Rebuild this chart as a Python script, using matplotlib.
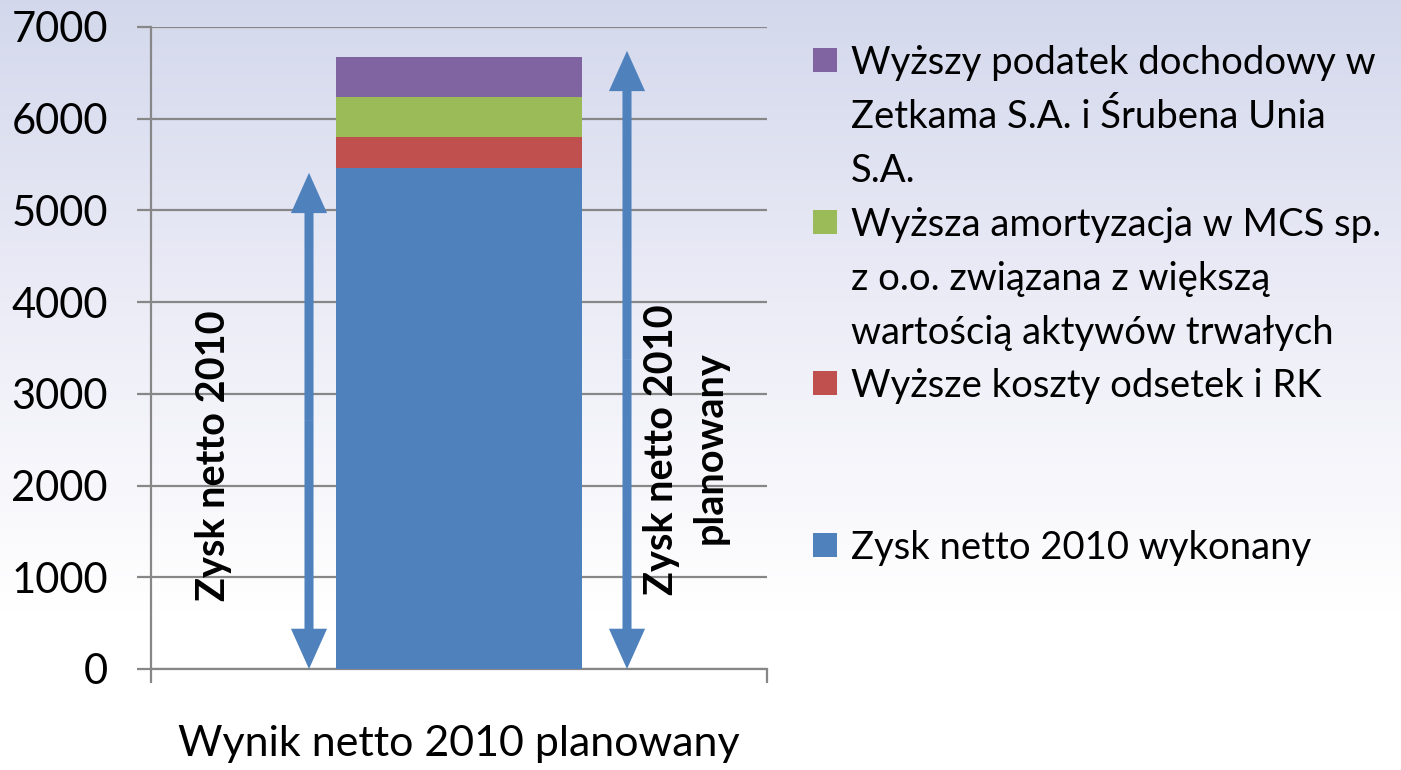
import numpy as np
import matplotlib
matplotlib.use("Agg")
import matplotlib.pyplot as plt
from matplotlib.patches import Rectangle, FancyArrowPatch

# ---------------- data ----------------
category = "Wynik netto 2010 planowany"
series_names = [
    "Zysk netto 2010 wykonany",
    "Wyższe koszty odsetek i RK",
    "Wyższa amortyzacja w MCS sp.\nz o.o. związana z większą\nwartością aktywów trwałych",
    "Wyższy podatek dochodowy w\nZetkama S.A. i Śrubena Unia\nS.A.",
]
series_values = [5466, 335, 436, 436]
series_colors = ["#4F81BD", "#C0504D", "#9BBB59", "#8064A2"]
y_ticks = [0, 1000, 2000, 3000, 4000, 5000, 6000, 7000]
arrow_left_label = "Zysk netto 2010"
arrow_right_label = "Zysk netto 2010\nplanowany"
arrow_left_top = 5410
arrow_right_top = 6740

# ---------------- figure ----------------
W, H = 1401, 770
fig = plt.figure(figsize=(W / 100, H / 100), dpi=100)
plt.rcParams['font.family'] = ['Lato', 'DejaVu Sans']

# background gradient
bg = fig.add_axes([0, 0, 1, 1], zorder=-10)
bg.axis("off")
top = np.array([0.827, 0.847, 0.925])
mid = np.array([0.925, 0.925, 0.968])
white = np.array([1.0, 1.0, 1.0])
cols = np.zeros((400, 1, 3))
for i, t in enumerate(np.linspace(0, H, 400)):
    if t < 300:
        f = t / 300
        c = top * (1 - f) + mid * f
    elif t < 610:
        f = (t - 300) / 310
        c = mid * (1 - f) + white * f
    else:
        c = white
    cols[i, 0] = c
bg.imshow(cols, aspect="auto", extent=[0, 1, 0, 1], origin="upper")

def fx(x):
    return x / W

def fy(y):
    return 1 - y / H

ax_l, ax_r, ax_t, ax_b = 151, 767, 27, 669
ax = fig.add_axes([fx(ax_l), fy(ax_b), fx(ax_r) - fx(ax_l), fy(ax_t) - fy(ax_b)])
ax.patch.set_alpha(0)

grey = "#878787"
bottom = 0
for v, c in zip(series_values, series_colors):
    ax.bar(0, v, bottom=bottom, width=0.4, color=c, zorder=3)
    bottom += v

ax.set_xlim(-0.5, 0.5)
ax.set_ylim(0, 7000)
ax.set_yticks(y_ticks)
ax.set_yticklabels([str(t) for t in y_ticks])
ax.yaxis.grid(True, color=grey, lw=1.6, zorder=0)
ax.set_axisbelow(True)
for s in ["top", "right"]:
    ax.spines[s].set_visible(False)
for s in ["left", "bottom"]:
    ax.spines[s].set_color(grey)
    ax.spines[s].set_linewidth(1.6)
ax.tick_params(axis="y", direction="out", length=10, width=1.6, color=grey,
               labelsize=30, pad=21, labelcolor="black")
ax.set_xticks([-0.5, 0.5])
ax.set_xticklabels(["", ""])
ax.tick_params(axis="x", which="major", direction="out", length=10, width=1.6, color=grey)
ax.set_xticks([0], minor=True)
ax.set_xticklabels([category], minor=True)
ax.tick_params(axis="x", which="minor", length=0, labelsize=31, pad=40)

# double-headed arrows
def double_arrow(x, y_top):
    ymid = y_top / 2
    for y_end in (0, y_top):
        a = FancyArrowPatch((x, ymid), (x, y_end),
                            arrowstyle="simple,head_length=2.9,head_width=2.6,tail_width=0.65",
                            mutation_scale=10, color="#4F81BD", lw=0,
                            shrinkA=0, shrinkB=0, zorder=4)
        ax.add_patch(a)

def px2dx(x):
    return (x - ax_l) / (ax_r - ax_l) - 0.5

def py2dy(y):
    return (ax_b - y) / (ax_b - ax_t) * 7000

double_arrow(px2dx(309), arrow_left_top)
double_arrow(px2dx(627), arrow_right_top)

rot_fs = 28.5
ax.text(px2dx(225), py2dy(455.5), arrow_left_label, rotation=90, rotation_mode="anchor",
        ha="center", va="baseline", fontsize=rot_fs, fontweight="bold", zorder=5)
rl = arrow_right_label.split("\n")
ax.text(px2dx(673), py2dy(450), rl[0], rotation=90, rotation_mode="anchor",
        ha="center", va="baseline", fontsize=rot_fs, fontweight="bold", zorder=5)
ax.text(px2dx(722), py2dy(448), rl[1], rotation=90, rotation_mode="anchor",
        ha="center", va="baseline", fontsize=rot_fs, fontweight="bold", zorder=5)

# legend (manual, top to bottom: purple, green, red, gap, blue)
line_step = 54
sq_centers = [545, 383, 222, 60]  # blue, red, green, purple
for name, c, yc in zip(series_names, series_colors, sq_centers):
    fig.patches.append(Rectangle((fx(813), fy(yc + 12)), fx(24), 24 / H,
                                 transform=fig.transFigure, color=c, lw=0))
    for k, line in enumerate(name.split("\n")):
        fig.text(fx(851), fy(yc + 14 + k * line_step), line, fontsize=27.5,
                 ha="left", va="baseline")

fig.savefig("out.png", dpi=100)
